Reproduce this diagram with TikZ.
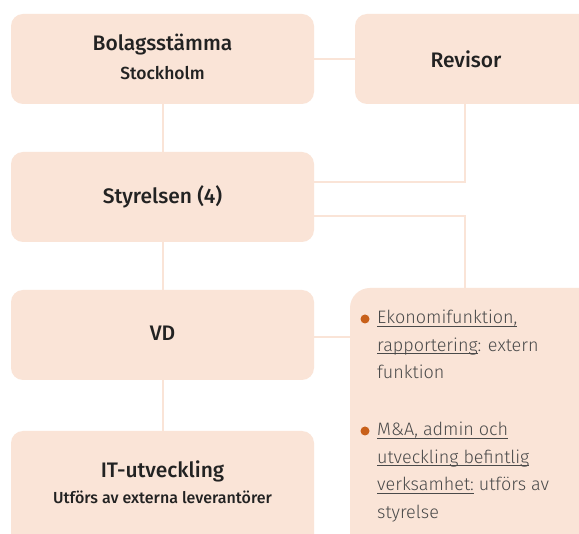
\documentclass[tikz,border=0pt]{standalone}
\usepackage{fontspec}
\setmainfont{Fira Sans Medium}
\newfontfamily\lightfont{Fira Sans Light}
\definecolor{peach}{HTML}{FAE4D7}
\definecolor{dot}{HTML}{C8601A}
\definecolor{head}{HTML}{222222}
\definecolor{body}{HTML}{4A4A4A}
\newcommand\myul[1]{\setbox0\hbox{#1}\rlap{\rule[-2.6pt]{\wd0}{0.8pt}}\box0\relax}
\tikzset{
  orgbox/.style={fill=peach, rounded corners=12pt},
  conn/.style={draw=peach, line width=2pt},
  headtxt/.style={text=head, font=\fontsize{21}{25}\selectfont, inner sep=0pt},
  subtxt/.style={text=head, font=\fontsize{17.5}{20}\selectfont, inner sep=0pt},
  bodytxt/.style={text=body, font=\lightfont\fontsize{18}{22}\selectfont, inner sep=0pt, anchor=base west},
  bullet/.style={circle, fill=dot, inner sep=0pt, minimum size=9pt},
}
\begin{document}
\begin{tikzpicture}[x=1pt,y=-1pt]
\useasboundingbox (0,0) rectangle (579,534);
\clip (0,0) rectangle (579,534);
\fill[white] (0,0) rectangle (579,534);
% boxes
\path[orgbox] (11,14) rectangle (314,104);
\path[orgbox] (355,14) rectangle (600,104);
\path[orgbox] (11,152) rectangle (314,242);
\path[orgbox] (11,290) rectangle (314,380);
\path[orgbox] (11,431) rectangle (314,560);
\path[orgbox, rounded corners=20pt] (350,288) rectangle (620,560);
% anchors
\coordinate (bolagS) at (162.5,104);
\coordinate (bolagE) at (314,59);
\coordinate (revW) at (355,59);
\coordinate (revS) at (465,104);
\coordinate (styN) at (162.5,152);
\coordinate (styS) at (162.5,242);
\coordinate (styE1) at (314,182);
\coordinate (styE2) at (314,216);
\coordinate (vdN) at (162.5,290);
\coordinate (vdS) at (162.5,380);
\coordinate (vdE) at (314,337);
\coordinate (itN) at (162.5,431);
\coordinate (rbW) at (350,337);
\coordinate (rbN) at (465,288);
% connectors
\draw[conn] (bolagE) -- (revW);
\draw[conn] (bolagS) -- (styN);
\draw[conn] (styS) -- (vdN);
\draw[conn] (vdS) -- (itN);
\draw[conn] (revS) |- (styE1);
\draw[conn] (styE2) -| (rbN);
\draw[conn] (vdE) -- (rbW);
% texts
\node[headtxt, anchor=base] (t1) at (162.5,51) {Bolagsstämma};
\node[subtxt, anchor=base] (t2) at (162.5,80) {Stockholm};
\node[headtxt] (t3) at (466,59) {Revisor};
\node[headtxt] (t4) at (162.5,197) {Styrelsen (4)};
\node[headtxt] (t5) at (162.5,333) {VD};
\node[headtxt, anchor=base] (t6) at (162.5,478) {IT-utveckling};
\node[text=head, font=\fontsize{16}{18}\selectfont, inner sep=0pt, anchor=base] (t7) at (162.5,504) {Utförs av externa leverantörer};
% bullets
\node[bullet] (d1) at (365,319) {};
\node[bullet] (d2) at (365,431) {};
\node[bodytxt] (b1) at (377,324) {\myul{Ekonomifunktion,}};
\node[bodytxt] (b2) at (377,351.5) {\myul{rapportering}: extern};
\node[bodytxt] (b3) at (377,379) {funktion};
\node[bodytxt] (b4) at (377,436) {\myul{M\&A, admin och}};
\node[bodytxt] (b5) at (377,463.5) {\myul{utveckling befintlig}};
\node[bodytxt] (b6) at (377,491) {\myul{verksamhet:} utförs av};
\node[bodytxt] (b7) at (377,518.5) {styrelse};
\end{tikzpicture}
\end{document}
